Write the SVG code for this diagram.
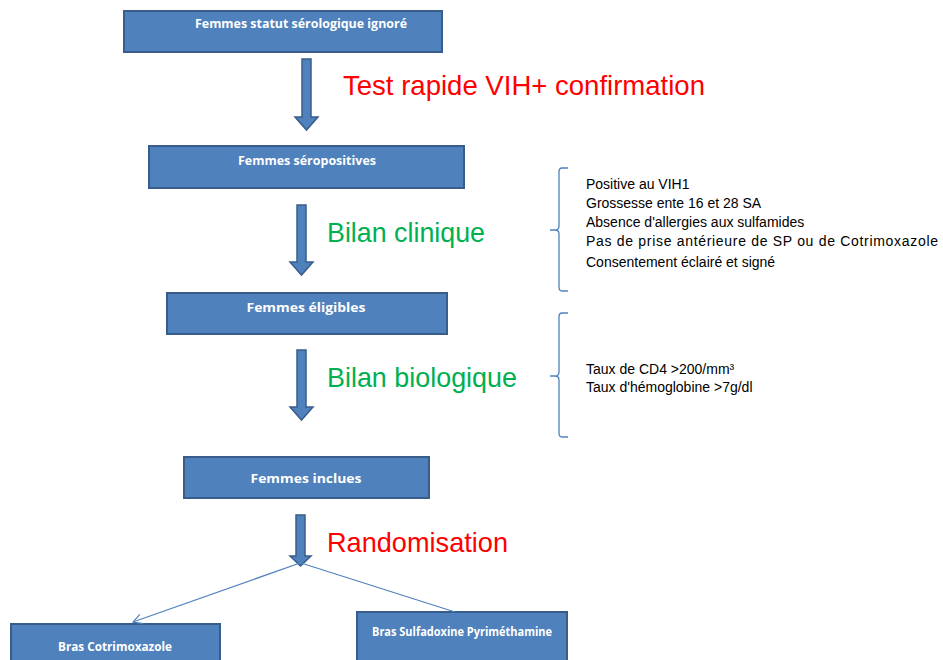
<svg xmlns="http://www.w3.org/2000/svg" width="943" height="660" viewBox="0 0 943 660">
<defs>
<style>
.box{fill:#4F81BD;stroke:#385D8A;stroke-width:2}
.bt{fill:#fff;font-family:"Open Sans","Liberation Sans",sans-serif;font-weight:bold;font-size:12px;text-anchor:middle}
.bt2{font-size:13px}
.big{font-family:"Liberation Sans",Arial,sans-serif;font-size:28px}
.red{fill:#FF0000}
.green{fill:#00B050}
.lst{font-family:"Liberation Sans",Arial,sans-serif;font-size:14px;fill:#000}
.blk{fill:#4F81BD;stroke:#385D8A;stroke-width:1.5}
.brace{fill:none;stroke:#4F81BD;stroke-width:1.3}
.ln{stroke:#4F81BD;stroke-width:1.2;fill:none}
</style>
<marker id="vh" markerWidth="12" markerHeight="12" refX="10" refY="6" orient="auto" markerUnits="userSpaceOnUse">
<path d="M1,1 L10,6 L1,11" fill="none" stroke="#4F81BD" stroke-width="1.2"/>
</marker>
</defs>
<rect width="943" height="660" fill="#fff"/>

<g id="n1"><rect class="box" x="124" y="11" width="318" height="41"/><text class="bt" x="301" y="28" textLength="212" lengthAdjust="spacingAndGlyphs">Femmes statut  sérologique ignoré</text></g>
<g id="n2"><rect class="box" x="149" y="146" width="315" height="42"/><text class="bt" x="307" y="165" textLength="138" lengthAdjust="spacingAndGlyphs">Femmes séropositives</text></g>
<g id="n3"><rect class="box" x="167" y="293" width="280" height="41"/><text class="bt" x="306" y="312" textLength="119" lengthAdjust="spacingAndGlyphs">Femmes éligibles</text></g>
<g id="n4"><rect class="box" x="184" y="457" width="245" height="41"/><text class="bt" x="306" y="483" textLength="111" lengthAdjust="spacingAndGlyphs">Femmes inclues</text></g>
<g id="n5"><rect class="box" x="11" y="624" width="209" height="45"/><text class="bt bt2" x="115" y="651" textLength="114" lengthAdjust="spacingAndGlyphs">Bras Cotrimoxazole</text></g>
<g id="n6"><rect class="box" x="357" y="612" width="210" height="56"/><text class="bt" x="462" y="636" textLength="180" lengthAdjust="spacingAndGlyphs">Bras Sulfadoxine  Pyriméthamine</text></g>

<g id="connectors">
<path class="blk" d="M302,59 H311 V117 H318 L306.5,130 L295,117 H302 Z"/>
<path class="blk" d="M297,205 H306 V262 H313 L301.5,275 L290,262 H297 Z"/>
<path class="blk" d="M297,350 H306 V407 H313 L301.5,420 L290,407 H297 Z"/>
<path class="blk" d="M296,515 H305 V556 H311 L300.5,566 L290,556 H296 Z"/>
<line class="ln" x1="300" y1="563" x2="133" y2="622" marker-end="url(#vh)"/>
<line class="ln" x1="301" y1="563" x2="455" y2="612"/>
</g>

<g id="labels">
<text class="big red" x="343" y="95" textLength="362" lengthAdjust="spacingAndGlyphs">Test rapide VIH+ confirmation</text>
<text class="big green" x="327" y="242" textLength="158" lengthAdjust="spacingAndGlyphs">Bilan clinique</text>
<text class="big green" x="327" y="387" textLength="190" lengthAdjust="spacingAndGlyphs">Bilan biologique</text>
<text class="big red" x="327" y="552" textLength="181" lengthAdjust="spacingAndGlyphs">Randomisation</text>
</g>

<g id="brace1">
<path class="brace" d="M568,168 H562 Q559,168 559,172 V226 Q559,230 555,230 H550 M555,230 Q559,230 559,234 V287 Q559,291 562,291 H568"/>
<text class="lst" x="586" y="189">Positive au VIH1</text>
<text class="lst" x="586" y="208">Grossesse ente 16 et 28 SA</text>
<text class="lst" x="586" y="227">Absence d'allergies aux sulfamides</text>
<text class="lst" x="586" y="246" textLength="352" lengthAdjust="spacing">Pas  de prise antérieure de SP ou de Cotrimoxazole</text>
<text class="lst" x="586" y="267">Consentement éclairé et signé</text>
</g>

<g id="brace2">
<path class="brace" d="M568,313 H562 Q559,313 559,317 V372 Q559,376 555,376 H550 M555,376 Q559,376 559,380 V433 Q559,437 562,437 H568"/>
<text class="lst" x="586" y="374">Taux de CD4 &gt;200/mm³</text>
<text class="lst" x="586" y="392">Taux d'hémoglobine &gt;7g/dl</text>
</g>
</svg>
